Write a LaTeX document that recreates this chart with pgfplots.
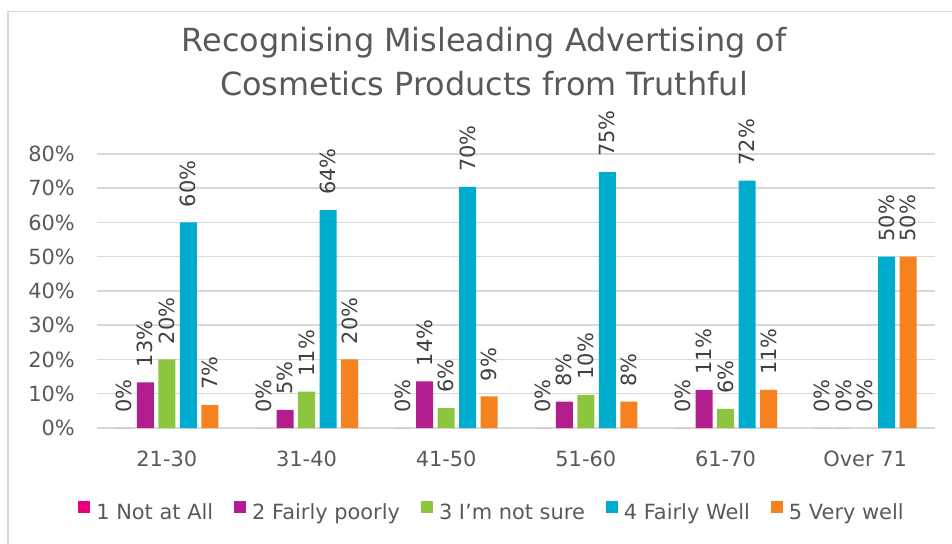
\documentclass[border=0pt]{standalone}
\usepackage{pgfplots}
\pgfplotsset{compat=1.18}
\usepackage{fontspec}
\setmainfont{DejaVu Sans}
\definecolor{cpink}{HTML}{E6007E}
\definecolor{cpurple}{HTML}{B21E8E}
\definecolor{cgreen}{HTML}{8CC63F}
\definecolor{cblue}{HTML}{00ACCD}
\definecolor{corange}{HTML}{F5821F}
\definecolor{txt}{HTML}{595959}
\definecolor{lbl}{HTML}{404040}
\definecolor{gridc}{HTML}{D9D9D9}
\begin{document}
\begin{tikzpicture}
\useasboundingbox (0bp,0bp) rectangle (952bp,544bp);
\draw[color=gridc, line width=1.5bp] (8bp,-5bp) -- (8bp,532.5bp) -- (960bp,532.5bp);
\node[anchor=base, text=txt, font=\fontsize{32}{38}\selectfont, inner sep=0pt] at (484bp,492bp) {Recognising Misleading Advertising of};
\node[anchor=base, text=txt, font=\fontsize{32}{38}\selectfont, inner sep=0pt] at (484bp,448bp) {Cosmetics Products from Truthful};
\begin{axis}[
  at={(97bp,116bp)}, anchor=south west,
  scale only axis, width=838bp, height=274bp,
  ymin=0, ymax=80, xmin=-0.5, xmax=5.5,
  clip=false,
  axis line style={draw=none},
  ytick={0,10,...,80},
  yticklabel={\pgfmathprintnumber{\tick}\%\kern22bp},
  ymajorgrids,
  grid style={color=gridc, line width=1.5bp},
  xtick={0,1,2,3,4,5},
  xticklabels={21-30,31-40,41-50,51-60,61-70,Over 71},
  major tick length=0pt,
  /pgf/number format/assume math mode=true,
  tick label style={font=\fontsize{21}{25}\selectfont, text=txt},
  yticklabel style={anchor=east, inner sep=0pt},
  xticklabel style={anchor=north, inner sep=0pt, yshift=-23bp},
  ybar=4.5bp, bar width=17bp,
  nodes near coords={\pgfmathprintnumber[fixed,precision=0]{\pgfplotspointmeta}\%},
  every node near coord/.append style={rotate=90, anchor=west, font=\fontsize{21}{25}\selectfont, text=lbl, inner xsep=15bp, inner ysep=0pt},
  legend columns=-1,
  legend style={at={(0.4714,-0.3066)}, anchor=center, draw=none, fill=none,
    font=\fontsize{21}{25}\selectfont, text=txt,
    /tikz/every odd column/.append style={column sep=4bp},
    /tikz/every even column/.append style={column sep=19bp}},
  legend image code/.code={\fill[#1] (0bp,-1bp) rectangle (12bp,11bp);},
]
\addplot[fill=cpink, draw=none] coordinates {(0,0) (1,0) (2,0) (3,0) (4,0) (5,0)};
\addplot[fill=cpurple, draw=none] coordinates {(0,13.3) (1,5.3) (2,13.6) (3,7.7) (4,11.1) (5,0)};
\addplot[fill=cgreen, draw=none] coordinates {(0,20) (1,10.6) (2,5.8) (3,9.7) (4,5.6) (5,0)};
\addplot[fill=cblue, draw=none] coordinates {(0,60) (1,63.6) (2,70.4) (3,74.7) (4,72.2) (5,50)};
\addplot[fill=corange, draw=none] coordinates {(0,6.7) (1,20) (2,9.2) (3,7.7) (4,11.1) (5,50)};
\legend{1 Not at All, 2 Fairly poorly, 3 I'm not sure, 4 Fairly Well, 5 Very well}
\end{axis}
\end{tikzpicture}
\end{document}
